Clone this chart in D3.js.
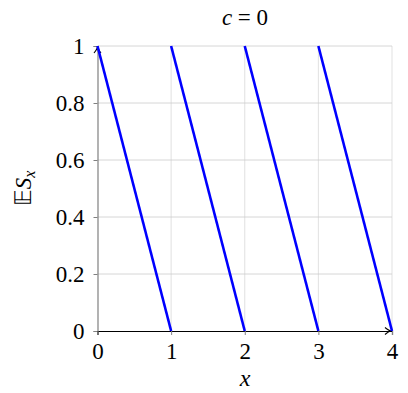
<!DOCTYPE html>
<html>
<head>
<meta charset="utf-8">
<script src="https://cdn.jsdelivr.net/npm/d3@7"></script>
</head>
<body style="margin:0;background:#fff">
<svg id="chart" width="408" height="393"></svg>
<script>
// each segment goes from (start, 1) down to (end, 0)
var segStart = [0, 1, 2, 3];
var segEnd = [1, 2, 3, 4];
var xTicks = [0, 1, 2, 3, 4];
var yTicks = [0, 0.2, 0.4, 0.6, 0.8, 1];
var yTickLabels = ["0", "0.2", "0.4", "0.6", "0.8", "1"];

var serif = 'Liberation Serif';
var svg = d3.select('#chart');
var plotLeft = 97.5, plotRight = 392, plotTop = 46, plotBottom = 331;

var x = d3.scaleLinear().domain([0, 4]).range([plotLeft, plotRight]);
var y = d3.scaleLinear().domain([0, 1]).range([plotBottom, plotTop]);

// grid
svg.append('g').selectAll('line')
    .data(xTicks.slice(1))
    .enter().append('line')
    .attr('x1', function (d) { return x(d); })
    .attr('x2', function (d) { return x(d); })
    .attr('y1', y(0)).attr('y2', y(1))
    .attr('stroke', '#d9d9d9').attr('stroke-width', 0.8);

svg.append('g').selectAll('line')
    .data(yTicks.slice(1))
    .enter().append('line')
    .attr('x1', x(0)).attr('x2', x(4))
    .attr('y1', function (d) { return y(d); })
    .attr('y2', function (d) { return y(d); })
    .attr('stroke', '#cccccc').attr('stroke-width', 0.8);

// y axis
var yAxis = d3.axisLeft(y).tickValues(yTicks)
    .tickFormat(function (d, i) { return yTickLabels[i]; })
    .tickSize(4).tickPadding(9);
var gy = svg.append('g').attr('transform', 'translate(' + plotLeft + ',0)').call(yAxis);
gy.attr('font-family', serif).attr('font-size', 23);
gy.select('.domain').attr('stroke', '#808080').attr('stroke-width', 1.2);
gy.selectAll('.tick line').attr('stroke', '#808080');
gy.selectAll('.tick text').attr('fill', '#000');

// x axis
var xAxis = d3.axisBottom(x).tickValues(xTicks).tickFormat(d3.format('d'))
    .tickSize(4).tickPadding(8);
var gx = svg.append('g').attr('transform', 'translate(0,' + plotBottom + ')').call(xAxis);
gx.attr('font-family', serif).attr('font-size', 23);
gx.select('.domain').attr('stroke', '#000').attr('stroke-width', 1.2);
gx.selectAll('.tick line').attr('stroke', '#808080');
gx.selectAll('.tick text').attr('fill', '#000');

// arrowheads
svg.append('path')
    .attr('d', 'M' + (plotRight - 7) + ',' + (plotBottom - 3.5) + ' Q' + (plotRight - 3) + ',' + plotBottom + ' ' + plotRight + ',' + plotBottom +
        ' Q' + (plotRight - 3) + ',' + plotBottom + ' ' + (plotRight - 7) + ',' + (plotBottom + 3.5))
    .attr('fill', 'none').attr('stroke', '#000').attr('stroke-width', 1.1);
svg.append('path')
    .attr('d', 'M' + (plotLeft - 3.5) + ',' + (plotTop + 7) + ' Q' + plotLeft + ',' + (plotTop + 3) + ' ' + plotLeft + ',' + plotTop +
        ' Q' + plotLeft + ',' + (plotTop + 3) + ' ' + (plotLeft + 3.5) + ',' + (plotTop + 7))
    .attr('fill', 'none').attr('stroke', '#000').attr('stroke-width', 1.1);

// series
svg.append('g').selectAll('line')
    .data(segStart)
    .enter().append('line')
    .attr('x1', function (d) { return x(d); })
    .attr('y1', y(1))
    .attr('x2', function (d, i) { return x(segEnd[i]); })
    .attr('y2', y(0))
    .attr('stroke', '#0000ff').attr('stroke-width', 2.6);

// title
var title = svg.append('text').attr('x', 245).attr('y', 25)
    .attr('text-anchor', 'middle')
    .attr('font-family', serif).attr('font-size', 23);
title.append('tspan').attr('font-style', 'italic').text('c');
title.append('tspan').text(' = 0');

// x label
svg.append('text').attr('x', 245).attr('y', 386)
    .attr('text-anchor', 'middle')
    .attr('font-family', serif).attr('font-size', 24)
    .attr('font-style', 'italic').text('x');

// y label
var yl = svg.append('text')
    .attr('transform', 'translate(31,' + ((plotTop + plotBottom) / 2) + ') rotate(-90)')
    .attr('text-anchor', 'middle')
    .attr('font-family', serif).attr('font-size', 23);
yl.append('tspan').text('𝔼');
yl.append('tspan').attr('font-style', 'italic').text('S');
yl.append('tspan').attr('font-style', 'italic').attr('font-size', 16).attr('dy', 4).text('x');
</script>
</body>
</html>
